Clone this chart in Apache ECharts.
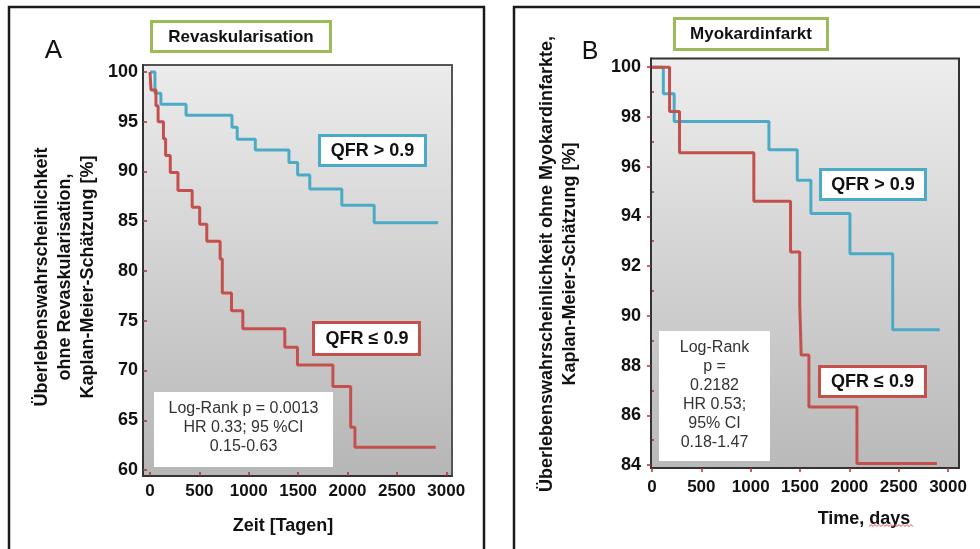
<!DOCTYPE html>
<html><head><meta charset="utf-8">
<script src="https://cdn.jsdelivr.net/npm/echarts@6/dist/echarts.min.js"></script>
<style>html,body{margin:0;padding:0;background:#fff}#c{width:980px;height:549px}</style>
</head><body><div id="c"></div>
<script>
// ---- Panel A: Revaskularisation ----
const daysRevHigh = [0, 50, 110, 365, 830, 883, 1066, 1407, 1495, 1618, 1942, 2270, 2918];
const survRevHigh = [100, 97.85, 96.75, 95.65, 94.45, 93.25, 92.15, 90.9, 89.65, 88.25, 86.6, 84.85, 84.85];
const daysRevLow = [0, 10, 60, 82, 136, 158, 205, 283, 427, 503, 575, 710, 732, 825, 940, 1365, 1493, 1852, 2032, 2075, 2893];
const survRevLow = [100, 98.2, 96.6, 95.0, 93.3, 91.6, 89.9, 88.1, 86.4, 84.7, 83.0, 81.2, 77.8, 76.0, 74.2, 72.35, 70.55, 68.4, 64.3, 62.3, 62.3];
const xTicksA = [0, 500, 1000, 1500, 2000, 2500, 3000];
const yTicksA = [60, 65, 70, 75, 80, 85, 90, 95, 100];

// ---- Panel B: Myokardinfarkt ----
const daysMiHigh = [0, 115, 225, 1185, 1472, 1610, 2006, 2439, 2915];
const survMiHigh = [100, 98.93, 97.82, 96.68, 95.45, 94.12, 92.5, 89.44, 89.44];
const daysMiLow = [0, 178, 279, 1032, 1404, 1497, 1512, 1590, 2077, 2887];
const survMiLow = [100, 98.22, 96.56, 94.61, 92.57, 90.48, 88.42, 86.33, 84.06, 84.06];
const xTicksB = [0, 500, 1000, 1500, 2000, 2500, 3000];
const yTicksB = [84, 86, 88, 90, 92, 94, 96, 98, 100];
const yMinorB = [85, 87, 89, 91, 93, 95, 97, 99];

const statsA = ['Log-Rank p = 0.0013', 'HR 0.33; 95 %CI', '0.15-0.63'];
const statsB = ['Log-Rank', 'p =', '0.2182', 'HR 0.53;', '95% CI', '0.18-1.47'];

const FONT = '"Liberation Sans", Arial, sans-serif';
const BLUE = '#4babc6', RED = '#c4504d', TICK = '#a83232', GREEN = '#9bbb59';
const pairs = (d, v) => d.map((x, i) => [x, v[i]]);

const chart = echarts.init(document.getElementById('c'));

function grad(top, bot) {
  return new echarts.graphic.LinearGradient(0, 0, 0, 1, [{offset: 0, color: top}, {offset: 1, color: bot}]);
}

function axisCfg(grid, min, max, ticks, inside, margin, fs) {
  return {
    type: 'value', gridIndex: grid, min: min, max: max,
    axisLine: {show: true, onZero: false, lineStyle: {color: '#333', width: 2}},
    axisTick: {show: true, inside: inside, length: 4, customValues: ticks, lineStyle: {color: TICK, width: 1.5}},
    axisLabel: {customValues: ticks, margin: margin, fontSize: fs, fontWeight: 'bold', color: '#111', fontFamily: FONT,
      formatter: v => String(v)},
    splitLine: {show: false}
  };
}

function box(x, y, w, h, stroke, lw) {
  return {type: 'rect', z: 10, shape: {x: x, y: y, width: w, height: h},
    style: {fill: '#fff', stroke: stroke || null, lineWidth: lw || 0}};
}
function txt(x, y, text, font, lh, fill, rot) {
  return {type: 'text', z: 11, x: x, y: y, rotation: rot || 0,
    style: {text: text, font: font, fill: fill || '#111', align: 'center', verticalAlign: 'middle',
      textAlign: 'center', textVerticalAlign: 'middle', lineHeight: lh}};
}

const zig = [];
for (let i = 0; i <= 22; i++) zig.push([869 + i * 2, i % 2 ? 524.5 : 526.5]);

const option = {
  animation: false,
  backgroundColor: '#fff',
  grid: [
    {left: 143, top: 65, width: 309, height: 411, show: true, borderColor: '#555', borderWidth: 2,
      backgroundColor: grad('#ececec', '#b6b6b6')},
    {left: 651, top: 58.5, width: 308, height: 409.5, show: true, borderColor: '#333', borderWidth: 2,
      backgroundColor: grad('#ededed', '#b9b9b9')}
  ],
  xAxis: [
    axisCfg(0, -71, 3058, xTicksA, true, 7, 17),
    axisCfg(1, -10, 3111, xTicksB, false, 11, 17)
  ],
  yAxis: [
    axisCfg(0, 59.4, 100.7, yTicksA, true, 5, 18),
    axisCfg(1, 83.88, 100.35, yTicksB, false, 10, 18),
    {type: 'value', gridIndex: 1, min: 83.88, max: 100.35,
      axisLine: {show: false}, axisLabel: {show: false}, splitLine: {show: false},
      axisTick: {show: true, inside: false, length: 2, customValues: yMinorB, lineStyle: {color: TICK, width: 1.5}}}
  ],
  series: [
    {type: 'line', xAxisIndex: 0, yAxisIndex: 0, step: 'end', symbol: 'none', z: 3,
      lineStyle: {color: BLUE, width: 3}, data: pairs(daysRevHigh, survRevHigh)},
    {type: 'line', xAxisIndex: 0, yAxisIndex: 0, step: 'end', symbol: 'none', z: 4,
      lineStyle: {color: RED, width: 3}, data: pairs(daysRevLow, survRevLow)},
    {type: 'line', xAxisIndex: 1, yAxisIndex: 1, step: 'end', symbol: 'none', z: 3,
      lineStyle: {color: BLUE, width: 3}, data: pairs(daysMiHigh, survMiHigh)},
    {type: 'line', xAxisIndex: 1, yAxisIndex: 1, step: 'end', symbol: 'none', z: 4,
      lineStyle: {color: RED, width: 3}, data: pairs(daysMiLow, survMiLow)}
  ],
  graphic: [
    {type: 'rect', z: 20, shape: {x: 9, y: 7, width: 475, height: 570}, style: {fill: null, stroke: '#1a1a1a', lineWidth: 2.5}},
    {type: 'rect', z: 20, shape: {x: 514, y: 7, width: 500, height: 570}, style: {fill: null, stroke: '#1a1a1a', lineWidth: 2.5}},
    txt(53.5, 51, 'A', '26px ' + FONT, 26),
    txt(590, 52, 'B', '25px ' + FONT, 25),
    box(151.5, 21.5, 179, 30, GREEN, 3),
    txt(241, 37, 'Revaskularisation', 'bold 17px ' + FONT, 20),
    box(674.5, 18.5, 153, 31, GREEN, 3),
    txt(751, 34.5, 'Myokardinfarkt', 'bold 17px ' + FONT, 20),
    box(319.5, 135.5, 106, 30, BLUE, 3),
    txt(372.5, 151, 'QFR > 0.9', 'bold 18px ' + FONT, 20),
    box(313.5, 322.5, 106, 32, RED, 3),
    txt(367, 339, 'QFR ≤ 0.9', 'bold 18px ' + FONT, 20),
    box(820.5, 169.5, 105, 30, BLUE, 3),
    txt(873, 185, 'QFR > 0.9', 'bold 18px ' + FONT, 20),
    box(819.5, 366.5, 106, 30, RED, 3),
    txt(872.5, 382, 'QFR ≤ 0.9', 'bold 18px ' + FONT, 20),
    box(154, 392, 179, 75),
    txt(243.5, 427.5, statsA.join('\n'), '16px ' + FONT, 19, '#333'),
    box(659, 331, 111, 130),
    txt(714.5, 395.5, statsB.join('\n'), '16px ' + FONT, 19, '#333'),
    txt(283, 526, 'Zeit [Tagen]', 'bold 18px ' + FONT, 20),
    txt(864, 519, 'Time, days', 'bold 18px ' + FONT, 20),
    {type: 'polyline', z: 11, shape: {points: zig}, style: {stroke: '#e05050', lineWidth: 1, fill: null}},
    txt(65.5, 277, 'Überlebenswahrscheinlichkeit\nohne Revaskularisation,\nKaplan-Meier-Schätzung [%]', 'bold 18px ' + FONT, 23, '#111', Math.PI / 2),
    txt(558.5, 264, 'Überlebenswahrscheinlichkeit ohne Myokardinfarkte,\nKaplan-Meier-Schätzung [%]', 'bold 18px ' + FONT, 23, '#111', Math.PI / 2)
  ]
};
chart.setOption(option);
</script></body></html>
